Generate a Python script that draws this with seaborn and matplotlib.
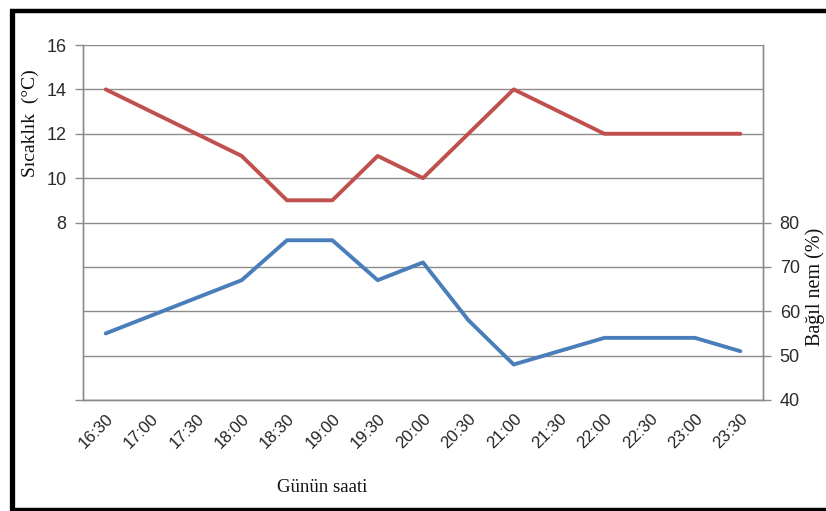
import numpy as np
import pandas as pd
import matplotlib
matplotlib.use("Agg")
import matplotlib.pyplot as plt
from matplotlib.lines import Line2D
import seaborn as sns

# Data
times = ["16:30", "17:00", "17:30", "18:00", "18:30", "19:00", "19:30", "20:00",
         "20:30", "21:00", "21:30", "22:00", "22:30", "23:00", "23:30"]
temperature = [14, 13, 12, 11, 9, 9, 11, 10, 12, 14, 13, 12, 12, 12, 12]
humidity = [55, 59, 63, 67, 76, 76, 67, 71, 58, 48, 51, 54, 54, 54, 51]

temp_ticks = [0, 8, 10, 12, 14, 16]
temp_labels = ["", "8", "10", "12", "14", "16"]
temp_extra_grid = [2, 4, 6]
hum_ticks = [40, 50, 60, 70, 80]

RED = "#C0504D"
BLUE = "#4A7EBB"
GRID = "#8C8C8C"

sns.set_style("white")
plt.rcParams["font.family"] = ["Liberation Sans", "DejaVu Sans"]

df = pd.DataFrame({"time": times, "temp": temperature, "hum": humidity})

W, H = 826, 511
fig = plt.figure(figsize=(W / 100, H / 100), dpi=100)
ax = fig.add_axes([83 / W, 1 - 400 / H, (763 - 83) / W, (400 - 45) / H])
ax2 = ax.twinx()

sns.lineplot(data=df, x="time", y="temp", ax=ax, color=RED, linewidth=2.8, sort=False)
sns.lineplot(data=df, x="time", y="hum", ax=ax2, color=BLUE, linewidth=2.8, sort=False)

n = len(times)
ax.set_xlim(-0.5, n - 0.5)
ax.set_ylim(0, 16)
ax2.set_ylim(40, 120)

# left axis: ticks only where labelled, gridlines every 2
ax.set_yticks(temp_ticks)
ax.set_yticklabels(temp_labels)
ax.set_yticks(temp_extra_grid, minor=True)
ax.grid(axis="y", which="both", color=GRID, linewidth=1.0)
ax.set_axisbelow(True)

# right axis
ax2.set_yticks(hum_ticks)
ax2.set_yticklabels([str(v) for v in hum_ticks])
ax2.grid(False)

# category axis: labels at centres, tick marks at boundaries
ax.set_xticks(np.arange(n))
ax.set_xticklabels(times, rotation=45, ha="right", rotation_mode="anchor")
ax.set_xticks(np.arange(n + 1) - 0.5, minor=True)
ax.tick_params(axis="x", which="major", length=0, pad=8, labelsize=12, labelcolor="#222222")
ax.tick_params(axis="x", which="minor", length=6, width=1, color=GRID, direction="out")
ax.tick_params(axis="y", which="major", length=6, width=1, color=GRID, direction="out",
               left=True, labelsize=13, labelcolor="#2b2b2b", pad=6)
ax.tick_params(axis="y", which="minor", length=0)
ax2.tick_params(axis="y", length=6, width=1, color=GRID, direction="out", right=True,
                labelsize=13, labelcolor="#2b2b2b", pad=6)

for a in (ax, ax2):
    a.set_xlabel("")
    a.set_ylabel("")
    for side in a.spines.values():
        side.set_color(GRID)
        side.set_linewidth(1.0)
    a.spines["top"].set_visible(False)

# axis titles
serif = ["Liberation Serif", "DejaVu Serif"]
fig.text(322 / W, 1 - 487 / H, "Günün saati", family=serif, fontsize=13.5,
         ha="center", va="center", color="#111111")
fig.text(30 / W, 1 - 123 / H, "Sıcaklık  (°C)", family=serif, fontsize=14,
         rotation=90, ha="center", va="center", color="#111111")
fig.text(815 / W, 1 - 287 / H, "Bağıl nem (%)", family=serif, fontsize=14.5,
         rotation=90, ha="center", va="center", color="#111111")

# black frame (left, top, bottom)
fig.add_artist(Line2D([11.5 / W, 11.5 / W], [0, 1 - 9 / H], transform=fig.transFigure,
                      color="black", linewidth=3.8, solid_capstyle="butt"))
fig.add_artist(Line2D([9.5 / W, 1], [1 - 11 / H, 1 - 11 / H], transform=fig.transFigure,
                      color="black", linewidth=3.2, solid_capstyle="butt"))
fig.add_artist(Line2D([9.5 / W, 1], [1 - 509.5 / H, 1 - 509.5 / H], transform=fig.transFigure,
                      color="black", linewidth=3.2, solid_capstyle="butt"))

fig.savefig("out.png", dpi=100)
